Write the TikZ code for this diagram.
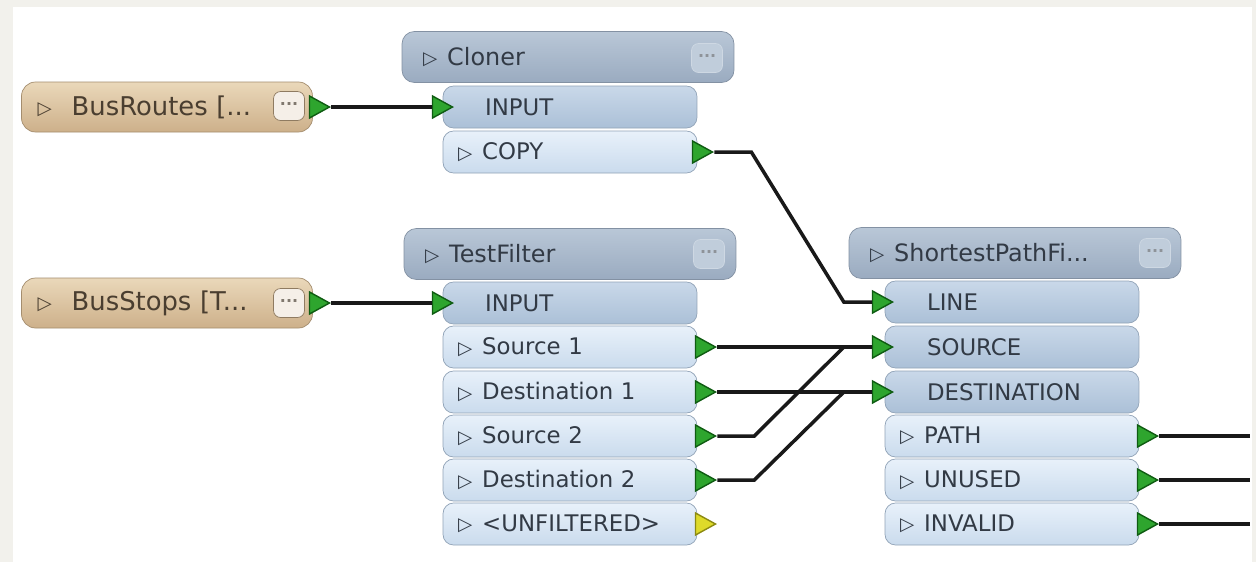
\documentclass[tikz,border=0pt]{standalone}
\usepackage{fontspec}
\usetikzlibrary{shapes.geometric}
\newfontfamily\fmefont{DejaVu Sans}
\newcommand{\portmark}{{\fontsize{10.5}{10}\selectfont\raisebox{0.3pt}{▷}}\hspace{0.2cm}}
\definecolor{frame}{HTML}{F2F1EC}
\definecolor{txt}{HTML}{323A45}
\definecolor{readtxt}{HTML}{4A3E30}
\definecolor{hdrtop}{HTML}{B9C7D7}
\definecolor{hdrbot}{HTML}{9AABC0}
\definecolor{intop}{HTML}{C9D8E9}
\definecolor{inbot}{HTML}{ABC0D7}
\definecolor{outtop}{HTML}{E8F1FA}
\definecolor{outbot}{HTML}{CADBED}
\definecolor{tantop}{HTML}{EAD8BA}
\definecolor{tanbot}{HTML}{CDB08A}
\definecolor{okgreen}{HTML}{2EA52E}
\definecolor{okdark}{HTML}{0F5C12}
\definecolor{warnyel}{HTML}{DEDA2A}
\definecolor{warndark}{HTML}{8C8A12}

\begin{document}
\begin{tikzpicture}[x=0.02cm,y=-0.02cm,
    hdr/.style={rounded corners=7pt,draw=hdrbot!85!black,top color=hdrtop,bottom color=hdrbot,
        minimum height=1.02cm,text width=6.24cm,inner xsep=0.2cm,align=left,text=txt,
        font=\fmefont\fontsize{13.6}{16}\selectfont,execute at begin node={\hspace*{0.22cm}}},
    reader/.style={rounded corners=8pt,draw=tanbot!80!black,top color=tantop,bottom color=tanbot,
        minimum height=1.0cm,text width=5.18cm,inner xsep=0.32cm,align=left,text=readtxt,
        font=\fmefont\fontsize{14.7}{17}\selectfont},
    port/.style={rounded corners=6pt,draw=inbot!85!black,top color=outtop,bottom color=outbot,
        minimum height=0.84cm,text width=4.48cm,inner xsep=0.3cm,align=left,text=txt,
        font=\fmefont\fontsize{13}{16}\selectfont},
    inport/.style={port,top color=intop,bottom color=inbot,execute at begin node={\hspace*{0.54cm}}},
    dots/.style={rounded corners=4pt,draw=hdrtop!70!white,fill=hdrtop!90!white,minimum width=0.62cm,
        minimum height=0.58cm,inner sep=0pt,text=txt!55!white,font=\fmefont\bfseries\fontsize{9}{9}\selectfont},
    pin/.style={isosceles triangle,isosceles triangle stretches,minimum width=0.44cm,minimum height=0.4cm,
        inner sep=0pt,fill=okgreen,draw=okdark,line width=0.8pt},
    wire/.style={line width=2pt,black!90}]

    % frame
    \useasboundingbox (0,0) rectangle (1256,562);
    \fill[frame] (0,0) rectangle (1256,562);
    \fill[white] (13,7) rectangle (1252,562);

    % readers
    \draw (167,107) node[reader](busroutes){\portmark\hspace{0.2cm}BusRoutes [...};
    \draw (289,106) node[dots,fill=white!80!tanbot,draw=tanbot!70!black,text=readtxt!70](busroutesdots){···};
    \draw (316,107) node[pin](busroutesout){};
    \draw (167,303) node[reader](busstops){\portmark\hspace{0.2cm}BusStops [T...};
    \draw (289,303) node[dots,fill=white!80!tanbot,draw=tanbot!70!black,text=readtxt!70](busstopsdots){···};
    \draw (316,303) node[pin](busstopsout){};

    % Cloner
    \draw (568,57) node[hdr](cloner){\portmark Cloner};
    \draw (707,58) node[dots](clonerdots){···};
    \draw (570,107) node[inport](clinput){INPUT};
    \draw (570,152) node[port](clcopy){\portmark COPY};
    \draw (439,107) node[pin](clin){};
    \draw (699,152) node[pin](clcopyout){};

    % TestFilter
    \draw (570,254) node[hdr](testfilter){\portmark TestFilter};
    \draw (709,254) node[dots](tfdots){···};
    \draw (570,303) node[inport](tfinput){INPUT};
    \draw (570,347) node[port](tfsrca){\portmark Source 1};
    \draw (570,392) node[port](tfdsta){\portmark Destination 1};
    \draw (570,436) node[port](tfsrcb){\portmark Source 2};
    \draw (570,480) node[port](tfdstb){\portmark Destination 2};
    \draw (570,524) node[port](tfunf){\portmark <UNFILTERED>};
    \draw (439,303) node[pin](tfin){};
    \draw (702,347) node[pin](tfsrcaout){};
    \draw (702,392) node[pin](tfdstaout){};
    \draw (702,436) node[pin](tfsrcbout){};
    \draw (702,480) node[pin](tfdstbout){};
    \draw (702,524) node[pin,fill=warnyel,draw=warndark](tfunfout){};

    % ShortestPathFinder
    \draw (1015,253) node[hdr](spf){\portmark ShortestPathFi...};
    \draw (1155,253) node[dots](spfdots){···};
    \draw (1012,302) node[inport](spline){LINE};
    \draw (1012,347) node[inport](spsrc){SOURCE};
    \draw (1012,392) node[inport](spdst){DESTINATION};
    \draw (1012,436) node[port](sppath){\portmark PATH};
    \draw (1012,480) node[port](spunused){\portmark UNUSED};
    \draw (1012,524) node[port](spinvalid){\portmark INVALID};
    \draw (879,302) node[pin](splinein){};
    \draw (879,347) node[pin](spsrcin){};
    \draw (879,392) node[pin](spdstin){};
    \draw (1144,436) node[pin](sppathout){};
    \draw (1144,480) node[pin](spunusedout){};
    \draw (1144,524) node[pin](spinvalidout){};
    \coordinate (pathend) at (1250,436);
    \coordinate (unusedend) at (1250,480);
    \coordinate (invalidend) at (1250,524);

    % wires
    \draw[wire] (busroutesout.east) -- (clin.west);
    \draw[wire] (busstopsout.east) -- (tfin.west);
    \draw[wire] (clcopyout.east) -- ++(37,0) -- ([xshift=-0.56cm]splinein.west) -- (splinein.west);
    \draw[wire] (tfsrcaout.east) -- (spsrcin.west);
    \draw[wire] (tfdstaout.east) -- (spdstin.west);
    \draw[wire] (tfsrcbout.east) -- ++(37,0) -- ([xshift=-0.56cm]spsrcin.west);
    \draw[wire] (tfdstbout.east) -- ++(37,0) -- ([xshift=-0.56cm]spdstin.west);
    \draw[wire] (sppathout.east) -- (pathend);
    \draw[wire] (spunusedout.east) -- (unusedend);
    \draw[wire] (spinvalidout.east) -- (invalidend);
\end{tikzpicture}
\end{document}
